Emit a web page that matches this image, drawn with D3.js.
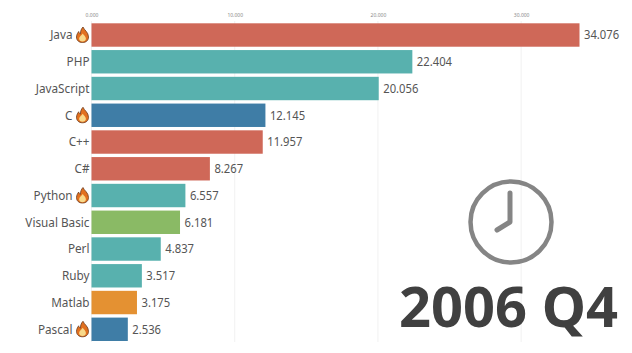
<!DOCTYPE html>
<html>
<head>
<meta charset="utf-8">
<script src="https://cdn.jsdelivr.net/npm/d3@7"></script>
<style>
  html, body { margin: 0; padding: 0; background: #fff; }
  svg { display: block; font-family: "Noto Sans", sans-serif; }
</style>
</head>
<body>
<svg width="632" height="353"></svg>
<script>
// Data
const languages = ['Java', 'PHP', 'JavaScript', 'C', 'C++', 'C#', 'Python', 'Visual Basic', 'Perl', 'Ruby', 'Matlab', 'Pascal'];
const shares = [34.076, 22.404, 20.056, 12.145, 11.957, 8.267, 6.557, 6.181, 4.837, 3.517, 3.175, 2.536];
const groups = ['red', 'teal', 'teal', 'blue', 'red', 'red', 'teal', 'green', 'teal', 'teal', 'orange', 'blue'];
const onFire = ['Java', 'C', 'Python', 'Pascal'];
const tickValues = [0, 10, 20, 30];
const period = '2006 Q4';

const groupColors = {red: '#cf6858', teal: '#58b1ae', blue: '#3f7da6', green: '#8aba65', orange: '#e49132'};

const svg = d3.select('svg');

const x = d3.scaleLinear().domain([0, 34.076]).range([91.5, 579.5]);
const y = d3.scaleBand().domain(languages).range([21.7, 342.6]).paddingInner(0.125).paddingOuter(0.06);

// The original font is narrower than Noto Sans, so labels get squeezed
const squeezeName = 0.94;
const squeezeValue = 0.9;

// Axis on top, grid lines go behind the bars
const axis = svg.append('g')
  .attr('transform', 'translate(0,20)')
  .call(d3.axisTop(x).tickValues(tickValues).tickFormat(d3.format('.3f')).tickSize(0));
axis.select('.domain').remove();
axis.selectAll('text')
  .attr('y', -3)
  .attr('fill', '#8a8a8a')
  .style('font-size', '5px')
  .style('font-family', '"Noto Sans", sans-serif');

svg.append('g').selectAll('line')
  .data(tickValues)
  .join('line')
  .attr('x1', d => x(d))
  .attr('x2', d => x(d))
  .attr('y1', 21)
  .attr('y2', 342)
  .attr('stroke', '#f1f1f1');

// Bars
svg.append('g').selectAll('rect')
  .data(languages)
  .join('rect')
  .attr('x', x(0))
  .attr('y', d => y(d))
  .attr('width', (d, i) => x(shares[i]) - x(0))
  .attr('height', y.bandwidth())
  .attr('fill', (d, i) => groupColors[groups[i]]);

// Value labels
svg.append('g').selectAll('text')
  .data(languages)
  .join('text')
  .attr('transform', (d, i) => `translate(${x(shares[i]) + 4.5},${y(d) + y.bandwidth() / 2}) scale(${squeezeValue},1)`)
  .attr('dy', '0.35em')
  .attr('fill', '#555')
  .style('font-size', '12.5px')
  .text((d, i) => d3.format('.3f')(shares[i]));

// Language labels, shifted left when a flame sits next to them
svg.append('g').selectAll('text')
  .data(languages)
  .join('text')
  .attr('transform', d => `translate(${onFire.includes(d) ? 72.5 : 89.5},${y(d) + y.bandwidth() / 2}) scale(${squeezeName},1)`)
  .attr('dy', '0.35em')
  .attr('text-anchor', 'end')
  .attr('fill', '#555')
  .style('font-size', '12.5px')
  .text(d => d);

// Flames
const flame = svg.append('g').selectAll('g')
  .data(onFire)
  .join('g')
  .attr('transform', d => `translate(82.5,${y(d) + y.bandwidth() / 2})`);
flame.append('path')
  .attr('d', 'M0.5,-8 C1.5,-5 6,-3 6,2 C6,5.5 3.5,7.5 0,7.5 C-3.5,7.5 -6,5.5 -6,2 C-6,-0.5 -4.5,-2.5 -3.8,-3.5 C-3.5,-2 -3,-1.5 -2,-1.2 C-2.2,-4 -1,-6.5 0.5,-8 Z')
  .attr('fill', '#e2701f')
  .attr('stroke', '#6b3a1c')
  .attr('stroke-width', 0.8);
flame.append('path')
  .attr('d', 'M0.3,-1.5 C1,0 3.4,1.5 3.4,3.6 C3.4,5.5 2,6.6 0,6.6 C-2,6.6 -3.4,5.5 -3.4,3.6 C-3.4,1.5 -0.8,0.5 0.3,-1.5 Z')
  .attr('fill', '#f8d98a');

// Clock
const clock = svg.append('g').attr('transform', 'translate(511,222)');
clock.append('circle')
  .attr('r', 40.5)
  .attr('fill', 'none')
  .attr('stroke', '#858585')
  .attr('stroke-width', 4.5);
clock.append('path')
  .attr('d', 'M-1,-29 L-1,0 L-14,8')
  .attr('fill', 'none')
  .attr('stroke', '#858585')
  .attr('stroke-width', 5)
  .attr('stroke-linecap', 'round')
  .attr('stroke-linejoin', 'round');

// Period
svg.append('text')
  .attr('x', 618)
  .attr('y', 327)
  .attr('text-anchor', 'end')
  .attr('fill', '#404040')
  .style('font-size', '56px')
  .style('font-weight', 700)
  .text(period);
</script>
</body>
</html>
